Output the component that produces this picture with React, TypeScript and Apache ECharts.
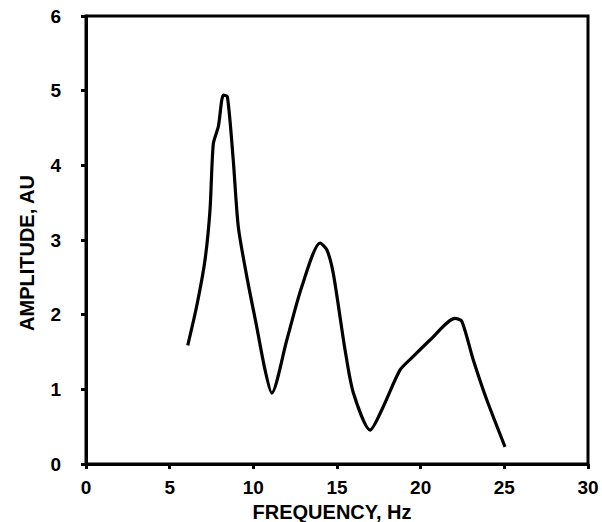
import React, { useEffect, useRef } from "react";
import * as echarts from "echarts";

const frequencyHz = [
  6.08, 6.61, 7.11, 7.41, 7.61, 7.91, 8.21, 8.45, 8.8, 9.1, 9.61, 10.2, 10.7, 11.1,
  12.0, 12.89, 13.99, 14.39, 14.78, 15.48, 15.98, 16.98, 17.77, 18.77, 19.56, 20.56,
  22.06, 22.46, 23.15, 23.95, 25.04,
];
const amplitudeAU = [
  1.59, 2.11, 2.73, 3.4, 4.29, 4.52, 4.94, 4.92, 4.07, 3.18, 2.51, 1.84, 1.26, 0.95,
  1.66, 2.37, 2.96, 2.87, 2.55, 1.53, 0.95, 0.455, 0.77, 1.26, 1.44, 1.66,
  1.95, 1.91, 1.39, 0.86, 0.23,
];
const xTitle = "FREQUENCY, Hz";
const yTitle = "AMPLITUDE, AU";

const FONT = "'Liberation Sans', Arial, sans-serif";

export default function App() {
  const ref = useRef<HTMLDivElement>(null);
  useEffect(() => {
    if (!ref.current) return;
    const chart = echarts.init(ref.current, undefined, { renderer: "svg" });
    const pts = frequencyHz.map((x, i) => [x, amplitudeAU[i]]);
    chart.setOption({
      animation: false,
      backgroundColor: "#fff",
      grid: {
        left: 86,
        right: 14,
        top: 16,
        bottom: 58,
        show: true,
        borderColor: "#000",
        borderWidth: 3,
        backgroundColor: "transparent",
      },
      xAxis: {
        type: "value",
        min: 0,
        max: 30,
        interval: 5,
        splitLine: { show: false },
        axisLine: { show: true, lineStyle: { color: "#000", width: 3 } },
        axisTick: { show: true, length: 5, lineStyle: { color: "#000", width: 3 } },
        axisLabel: {
          margin: 14,
          color: "#000",
          fontFamily: FONT,
          fontWeight: "bold",
          fontSize: 19,
        },
      },
      yAxis: {
        type: "value",
        min: 0,
        max: 6,
        interval: 1,
        splitLine: { show: false },
        axisLine: { show: true, lineStyle: { color: "#000", width: 3 } },
        axisTick: { show: true, length: 5, lineStyle: { color: "#000", width: 3 } },
        axisLabel: {
          margin: 25,
          color: "#000",
          fontFamily: FONT,
          fontWeight: "bold",
          fontSize: 19,
        },
      },
      graphic: [
        {
          type: "text",
          x: 332,
          y: 512,
          style: {
            text: xTitle,
            fill: "#000",
            font: `bold 20px ${FONT}`,
            textAlign: "center",
            textVerticalAlign: "middle",
          },
        },
        {
          type: "text",
          x: 27,
          y: 253,
          rotation: Math.PI / 2,
          style: {
            text: yTitle,
            fill: "#000",
            font: `bold 20px ${FONT}`,
            textAlign: "center",
            textVerticalAlign: "middle",
          },
        },
      ],
      series: [
        {
          type: "line",
          data: pts,
          smooth: 0.25,
          showSymbol: false,
          symbol: "none",
          lineStyle: { color: "#000", width: 3.2 },
        },
      ],
    });
    return () => chart.dispose();
  }, []);
  return (
    <div
      ref={ref}
      style={{ position: "fixed", left: 0, top: 0, width: 602, height: 522, background: "#fff" }}
    />
  );
}
